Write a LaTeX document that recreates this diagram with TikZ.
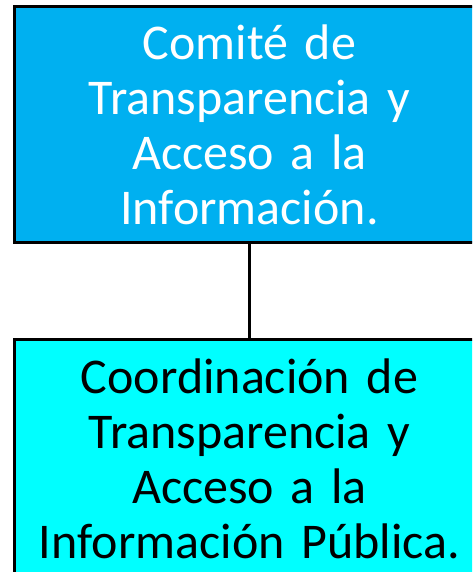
\documentclass[tikz,border=0pt]{standalone}
\usepackage{fontspec}
\setmainfont{Carlito}
\definecolor{topblue}{HTML}{00B0F0}
\definecolor{botcyan}{HTML}{00FFFF}
\tikzset{
  orgbox/.style={draw=black, line width=3pt, minimum width=470pt, text width=466pt, align=center, font={\fontsize{50}{55}\selectfont\spaceskip=0.2em\relax}, inner sep=0pt, anchor=north west},
}
\begin{document}
\begin{tikzpicture}[x=1pt,y=-1pt]
\useasboundingbox (0,0) rectangle (472,572);
\clip (0,0) rectangle (472,572);
\node[orgbox, fill=topblue, text=white, minimum height=236pt] (top) at (13,5) {Comité de\\Transparencia y\\Acceso a la\\Información.};
\node[orgbox, fill=botcyan, text=black, minimum height=238pt] (bot) at (13,338) {Coordinación de\\Transparencia y\\Acceso a la\\Información Pública.};
\draw[line width=3pt] (top.south) -- (bot.north);
\end{tikzpicture}
\end{document}
